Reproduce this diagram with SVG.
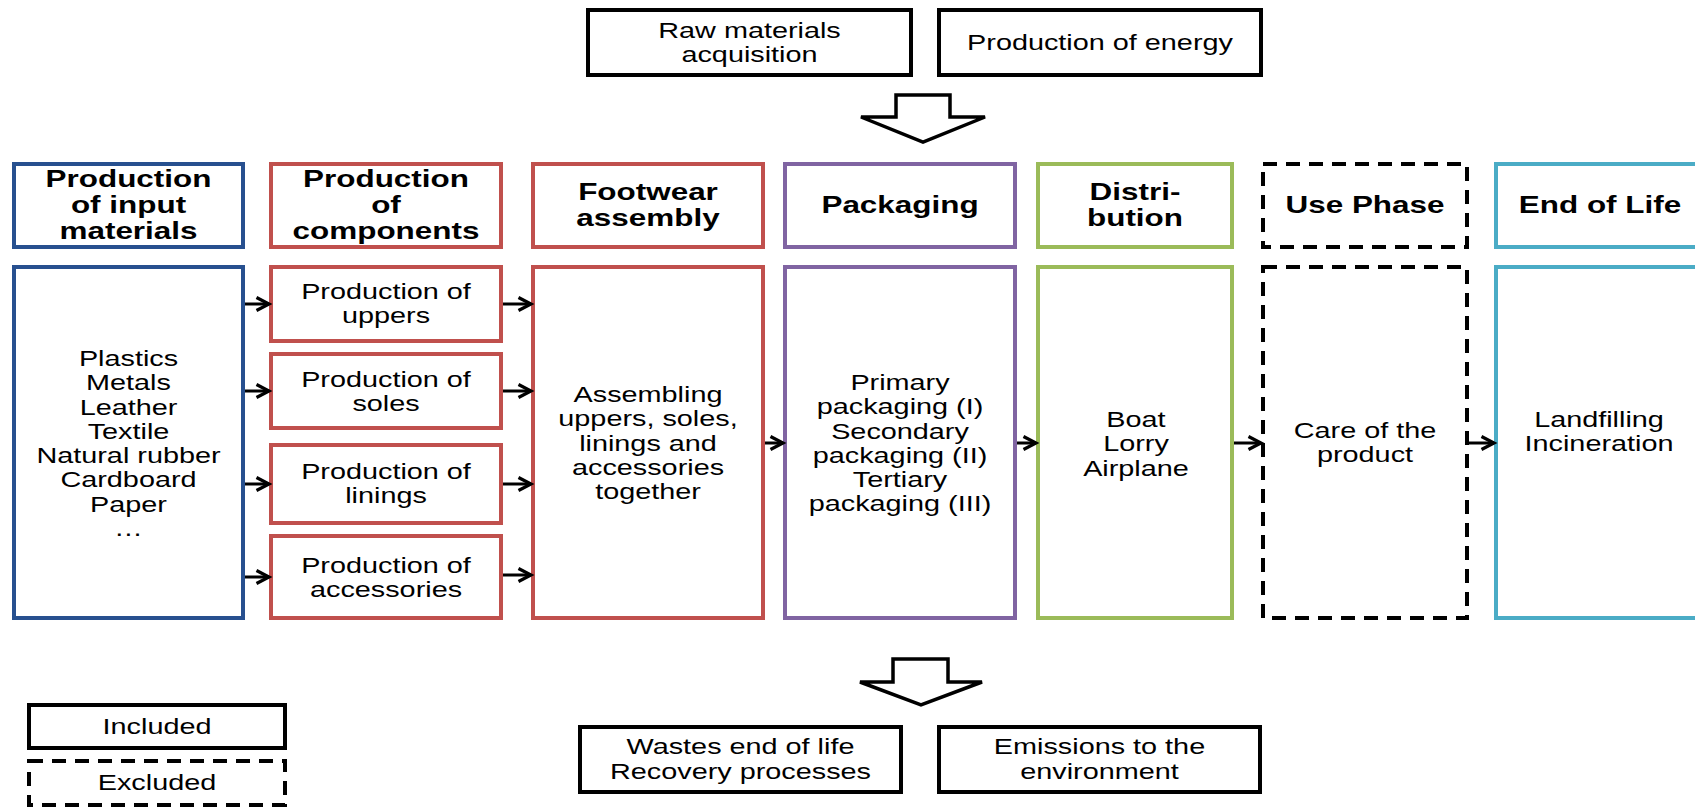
<svg xmlns="http://www.w3.org/2000/svg" width="1695" height="808" viewBox="0 0 1695 808">
<defs>
<style>
.box{fill:#fff;stroke-width:4}
.k{stroke:#000}
.dash{stroke:#000;stroke-dasharray:14 9}
.blue{stroke:#27508F}
.red{stroke:#C0504D}
.pur{stroke:#8064A2}
.grn{stroke:#9BBB59}
.cyan{stroke:#4BACC6}
text{font-family:"Liberation Sans",Arial,sans-serif;font-size:22px;text-anchor:middle;fill:#000}
text.b{font-weight:bold;font-size:24px}
.conn{stroke:#000;stroke-width:3;fill:none;marker-end:url(#ah)}
.blk{fill:#fff;stroke:#000;stroke-width:3.5;stroke-linejoin:miter}
</style>
<marker id="ah" markerUnits="userSpaceOnUse" markerWidth="18" markerHeight="18" refX="14" refY="8" orient="auto">
<path d="M1.5,1.5 L14,8 L1.5,14.5" fill="none" stroke="#000" stroke-width="3.2"/>
</marker>
</defs>
<rect width="1695" height="808" fill="#fff"/>

<g id="raw">
<rect class="box k" x="588" y="10" width="323" height="65"/>
<text transform="translate(749.5,0) scale(1.31,1)"><tspan x="0" y="38">Raw materials</tspan><tspan x="0" y="62">acquisition</tspan></text>
</g>
<g id="energy">
<rect class="box k" x="939" y="10" width="322" height="65"/>
<text transform="translate(1100,0) scale(1.31,1)" x="0" y="50">Production of energy</text>
</g>
<g id="arrow-in">
<polygon class="blk" points="896,95 950,95 950,117 985,117 923,142 861,117 896,117"/>
</g>

<g id="h-input">
<rect class="box blue" x="14" y="164" width="229" height="83"/>
<text class="b" transform="translate(128.5,0) scale(1.31,1)"><tspan x="0" y="187">Production</tspan><tspan x="0" y="213">of input</tspan><tspan x="0" y="239">materials</tspan></text>
</g>
<g id="h-components">
<rect class="box red" x="271" y="164" width="230" height="83"/>
<text class="b" transform="translate(386,0) scale(1.31,1)"><tspan x="0" y="187">Production</tspan><tspan x="0" y="213">of</tspan><tspan x="0" y="239">components</tspan></text>
</g>
<g id="h-assembly">
<rect class="box red" x="533" y="164" width="230" height="83"/>
<text class="b" transform="translate(648,0) scale(1.31,1)"><tspan x="0" y="200">Footwear</tspan><tspan x="0" y="226">assembly</tspan></text>
</g>
<g id="h-packaging">
<rect class="box pur" x="785" y="164" width="230" height="83"/>
<text class="b" transform="translate(900,0) scale(1.31,1)" x="0" y="213">Packaging</text>
</g>
<g id="h-distribution">
<rect class="box grn" x="1038" y="164" width="194" height="83"/>
<text class="b" transform="translate(1135,0) scale(1.31,1)"><tspan x="0" y="200">Distri-</tspan><tspan x="0" y="226">bution</tspan></text>
</g>
<g id="h-use">
<rect class="box dash" x="1263" y="164" width="204" height="83"/>
<text class="b" transform="translate(1365,0) scale(1.31,1)" x="0" y="213">Use Phase</text>
</g>
<g id="h-eol">
<rect class="box cyan" x="1496" y="164" width="209" height="83"/>
<text class="b" transform="translate(1600,0) scale(1.31,1)" x="0" y="213">End of Life</text>
</g>

<g id="b-input">
<rect class="box blue" x="14" y="267" width="229" height="351"/>
<text transform="translate(128.5,0) scale(1.31,1)"><tspan x="0" y="366">Plastics</tspan><tspan x="0" y="390.3">Metals</tspan><tspan x="0" y="414.6">Leather</tspan><tspan x="0" y="439">Textile</tspan><tspan x="0" y="463.2">Natural rubber</tspan><tspan x="0" y="487.5">Cardboard</tspan><tspan x="0" y="511.8">Paper</tspan><tspan x="0" y="536">…</tspan></text>
</g>
<g id="b-uppers">
<rect class="box red" x="271" y="267" width="230" height="74"/>
<text transform="translate(386,0) scale(1.31,1)"><tspan x="0" y="299">Production of</tspan><tspan x="0" y="323">uppers</tspan></text>
</g>
<g id="b-soles">
<rect class="box red" x="271" y="354" width="230" height="74"/>
<text transform="translate(386,0) scale(1.31,1)"><tspan x="0" y="387">Production of</tspan><tspan x="0" y="411">soles</tspan></text>
</g>
<g id="b-linings">
<rect class="box red" x="271" y="445" width="230" height="78"/>
<text transform="translate(386,0) scale(1.31,1)"><tspan x="0" y="479">Production of</tspan><tspan x="0" y="503">linings</tspan></text>
</g>
<g id="b-accessories">
<rect class="box red" x="271" y="536" width="230" height="82"/>
<text transform="translate(386,0) scale(1.31,1)"><tspan x="0" y="573">Production of</tspan><tspan x="0" y="597">accessories</tspan></text>
</g>
<g id="b-assembly">
<rect class="box red" x="533" y="267" width="230" height="351"/>
<text transform="translate(648,0) scale(1.31,1)"><tspan x="0" y="402">Assembling</tspan><tspan x="0" y="426.3">uppers, soles,</tspan><tspan x="0" y="450.6">linings and</tspan><tspan x="0" y="475">accessories</tspan><tspan x="0" y="499.2">together</tspan></text>
</g>
<g id="b-packaging">
<rect class="box pur" x="785" y="267" width="230" height="351"/>
<text transform="translate(900,0) scale(1.31,1)"><tspan x="0" y="390">Primary</tspan><tspan x="0" y="414.3">packaging (I)</tspan><tspan x="0" y="438.6">Secondary</tspan><tspan x="0" y="463">packaging (II)</tspan><tspan x="0" y="487.2">Tertiary</tspan><tspan x="0" y="511.5">packaging (III)</tspan></text>
</g>
<g id="b-distribution">
<rect class="box grn" x="1038" y="267" width="194" height="351"/>
<text transform="translate(1136,0) scale(1.31,1)"><tspan x="0" y="427">Boat</tspan><tspan x="0" y="451.3">Lorry</tspan><tspan x="0" y="475.6">Airplane</tspan></text>
</g>
<g id="b-use">
<rect class="box dash" x="1263" y="267" width="204" height="351"/>
<text transform="translate(1365,0) scale(1.31,1)"><tspan x="0" y="438">Care of the</tspan><tspan x="0" y="462.3">product</tspan></text>
</g>
<g id="b-eol">
<rect class="box cyan" x="1496" y="267" width="209" height="351"/>
<text transform="translate(1599,0) scale(1.31,1)"><tspan x="0" y="427">Landfilling</tspan><tspan x="0" y="451.3">Incineration</tspan></text>
</g>

<g id="connectors">
<line class="conn" x1="245" y1="304" x2="269" y2="304"/>
<line class="conn" x1="245" y1="391" x2="269" y2="391"/>
<line class="conn" x1="245" y1="484" x2="269" y2="484"/>
<line class="conn" x1="245" y1="577" x2="269" y2="577"/>
<line class="conn" x1="503" y1="304" x2="531" y2="304"/>
<line class="conn" x1="503" y1="391" x2="531" y2="391"/>
<line class="conn" x1="503" y1="484" x2="531" y2="484"/>
<line class="conn" x1="503" y1="575" x2="531" y2="575"/>
<line class="conn" x1="765" y1="443" x2="783" y2="443"/>
<line class="conn" x1="1017" y1="443" x2="1036" y2="443"/>
<line class="conn" x1="1234" y1="443" x2="1261" y2="443"/>
<line class="conn" x1="1469" y1="443" x2="1494" y2="443"/>
</g>

<g id="arrow-out">
<polygon class="blk" points="893,659 948,659 948,682 982,682 921,705 860,682 893,682"/>
</g>
<g id="wastes">
<rect class="box k" x="580" y="727" width="321" height="65"/>
<text transform="translate(740.5,0) scale(1.31,1)"><tspan x="0" y="754.5">Wastes end of life</tspan><tspan x="0" y="778.8">Recovery processes</tspan></text>
</g>
<g id="emissions">
<rect class="box k" x="939" y="727" width="321" height="65"/>
<text transform="translate(1099.5,0) scale(1.31,1)"><tspan x="0" y="754.5">Emissions to the</tspan><tspan x="0" y="778.8">environment</tspan></text>
</g>

<g id="legend-included">
<rect class="box k" x="29" y="705" width="256" height="43"/>
<text transform="translate(157,0) scale(1.31,1)" x="0" y="734">Included</text>
</g>
<g id="legend-excluded">
<rect class="box dash" x="29" y="761" width="256" height="44"/>
<text transform="translate(157,0) scale(1.31,1)" x="0" y="790.5">Excluded</text>
</g>
</svg>
